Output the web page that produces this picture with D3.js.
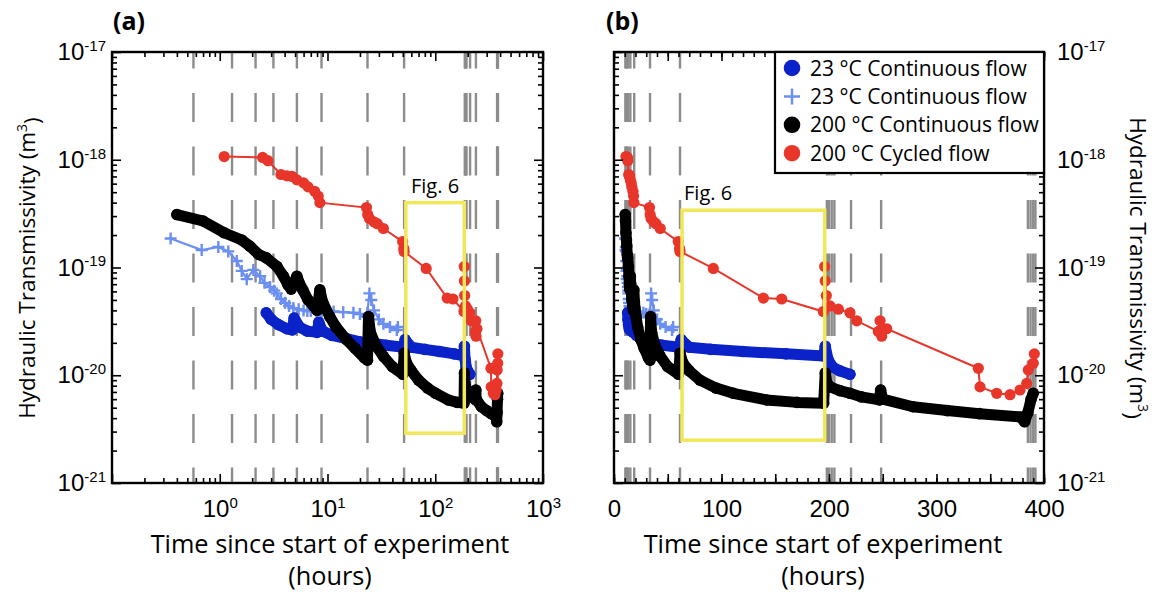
<!DOCTYPE html>
<html>
<head>
<meta charset="utf-8">
<script src="https://cdn.jsdelivr.net/npm/d3@7"></script>
<style>
  body { margin: 0; background: #fff; }
  svg { font-family: "Open Sans", sans-serif; }
</style>
</head>
<body>
<div id="chart"></div>
<script>
// ---- data: hours as read on panel (b), transmissivity in m^3 ----
const flowEvents = [10.57, 11.3, 12.15, 13.15, 15.2, 18.8, 33.5, 61.4, 198, 200, 202.5, 205, 220.5, 248.5, 385, 387.5, 390, 392];

const blueDots = [
  [12.7, 3.8e-20], [13.0, 3.3e-20], [13.5, 2.95e-20], [14.2, 2.7e-20], [14.7, 2.63e-20], [14.9, 3.4e-20],
  [15.5, 2.8e-20], [16.5, 2.57e-20], [18.0, 2.5e-20], [18.3, 3.1e-20], [19.0, 2.57e-20], [21, 2.34e-20],
  [25, 2.19e-20], [30, 2.04e-20], [34, 2.0e-20], [45, 1.9e-20], [61, 1.82e-20], [62.5, 2.14e-20],
  [70, 1.82e-20], [90, 1.74e-20], [120, 1.66e-20], [160, 1.58e-20], [195, 1.51e-20], [196.5, 1.86e-20],
  [199, 1.41e-20], [203, 1.2e-20], [210, 1.1e-20], [219.5, 1.02e-20]
];

const blueCrosses = [
  [10.35, 1.86e-19], [10.68, 1.45e-19], [10.97, 1.55e-19], [11.2, 1.41e-19], [11.44, 1.15e-19], [11.6, 9.3e-20],
  [11.78, 7.8e-20], [12.05, 9.5e-20], [12.37, 8.3e-20], [12.6, 7.2e-20], [12.93, 6.6e-20], [13.2, 6.1e-20],
  [13.38, 5.75e-20], [13.7, 5.1e-20], [14.04, 4.7e-20], [14.4, 4.4e-20], [14.82, 4.2e-20], [15.4, 4.1e-20],
  [16, 4.0e-20], [16.5, 3.95e-20], [17, 3.95e-20], [17.9, 3.9e-20], [18.7, 3.9e-20], [19.5, 3.9e-20],
  [21.4, 3.9e-20], [24, 3.85e-20], [27.4, 3.8e-20], [30, 3.7e-20], [33.2, 3.5e-20], [34.5, 5.75e-20],
  [35.5, 5.0e-20], [37, 4.0e-20], [40, 3.3e-20], [43, 3.0e-20], [48, 2.8e-20], [54, 2.63e-20], [55, 2.8e-20]
];

const blackDots = [
  [10.4, 3.1e-19], [10.7, 2.7e-19], [11.1, 2.1e-19], [11.6, 1.8e-19], [11.9, 1.58e-19], [12.3, 1.32e-19],
  [12.7, 1.23e-19], [13.4, 1.02e-19], [13.9, 8.3e-20], [14.3, 6.9e-20], [14.6, 6.3e-20], [15.2, 8.3e-20],
  [15.5, 7.1e-20], [15.9, 6.2e-20], [16.6, 5.0e-20], [17.4, 4.4e-20], [18.0, 4.0e-20], [18.5, 6.2e-20],
  [19.0, 4.8e-20], [20.5, 3.5e-20], [22, 2.8e-20], [25, 2.14e-20], [28, 1.78e-20], [32, 1.45e-20],
  [33.5, 1.38e-20], [34, 3.5e-20], [35, 2.5e-20], [38, 1.9e-20], [43, 1.5e-20], [50, 1.2e-20],
  [60, 1.02e-20], [61.5, 1.6e-20], [64, 1.3e-20], [70, 1.1e-20], [80, 9.0e-21], [95, 7.6e-21],
  [111, 6.8e-21], [142, 5.9e-21], [170, 5.6e-21], [195, 5.5e-21], [196.5, 1.05e-20], [198, 8.5e-21],
  [201, 7.8e-21], [210, 7.2e-21], [219.5, 6.8e-21], [230, 6.3e-21], [247, 5.9e-21], [248, 7.3e-21],
  [250, 6.0e-21], [278, 5.1e-21], [310, 4.7e-21], [340, 4.4e-21], [378, 4.1e-21], [382, 3.7e-21],
  [385, 4.5e-21], [388, 6.0e-21], [390, 6.8e-21]
];

const redDots = [
  [11.1, 1.07e-18], [12.5, 1.05e-18], [12.8, 9.8e-19], [13.7, 7.3e-19], [14.2, 7.1e-19], [14.7, 7.0e-19],
  [15.2, 6.5e-19], [16.0, 6.1e-19], [16.6, 5.6e-19], [17.6, 5.1e-19], [18.2, 4.6e-19], [18.5, 4.0e-19],
  [33, 3.6e-19], [33.6, 3.1e-19], [34.5, 2.85e-19], [37, 2.65e-19], [39, 2.55e-19], [43, 2.3e-19],
  [59.8, 1.74e-19], [61, 1.5e-19], [61.4, 1.41e-19], [92.4, 9.8e-20], [139, 5.2e-20], [156, 5.1e-20],
  [194.7, 3.9e-20], [196, 1.02e-19], [196.5, 7.5e-20], [197.5, 5.5e-20], [200.9, 4.4e-20], [208.7, 4.1e-20],
  [219.5, 3.8e-20], [225.8, 3.2e-20], [245.9, 2.55e-20], [247.5, 3.2e-20], [249, 2.3e-20], [253.7, 2.7e-20],
  [338.9, 1.16e-20], [340.5, 7.8e-21], [356, 6.8e-21], [368.4, 6.6e-21], [377.7, 7.3e-21], [383.9, 8.4e-21],
  [385.4, 1.12e-20], [390, 1.29e-20], [391, 1.58e-20]
];

// window shown in Fig. 6 (hours) and its transmissivity bounds in each panel
const figWindow = [63.3, 196];
const figBoundsA = [2.9e-21, 4.0e-19];
const figBoundsB = [2.5e-21, 3.4e-19];

const panelAShift = 10;   // panel (a) counts hours from 10 h later than panel (b)
const legendLabels = ["23 \u00B0C Continuous flow", "23 \u00B0C Continuous flow", "200 \u00B0C Continuous flow", "200 \u00B0C Cycled flow"];
const yTickExps = [-21, -20, -19, -18, -17];
const xTickExpsA = [0, 1, 2, 3];
const xTicksB = [0, 100, 200, 300, 400];

// ---- layout ----
const W = 1156, H = 595;
const plotTop = 52, plotBottom = 483;
const colors = { blue: "#0a22c8", light: "#6b8ff0", black: "#000000", red: "#e8362a", yellow: "#f1e75a", gray: "#8c8c8c" };

const svg = d3.select("#chart").append("svg")
    .attr("width", W).attr("height", H);

const y = d3.scaleLog().domain([1e-21, 1e-17]).range([plotBottom, plotTop]);
const xA = d3.scaleLog().domain([0.1, 1000]).range([112, 543]);
const xB = d3.scaleLinear().domain([0, 400]).range([614, 1044]);

const minorLog = (lo, hi) => {
  const out = [];
  for (let e = lo; e < hi; e++) for (let m = 2; m <= 9; m++) out.push(m * Math.pow(10, e));
  return out;
};
const majorY = yTickExps.map(e => Math.pow(10, e));
const minorY = minorLog(-21, -17);

function supLabel(sel, exp) {
  sel.text(null);
  sel.append("tspan").text("10");
  sel.append("tspan").attr("dy", "-0.62em").style("font-size", "15px").text(exp);
}

function frame(g, x, x0, x1, isLog, labelRight) {
  const noDomain = s => s.select(".domain").remove();
  // y axes, left and right, ticks pointing inward
  const yl = g.append("g").attr("transform", `translate(${x0},0)`);
  yl.append("g").call(d3.axisLeft(y).tickValues(minorY).tickSizeInner(-5).tickSizeOuter(0).tickFormat("")).call(noDomain);
  const ylm = yl.append("g").call(d3.axisLeft(y).tickValues(majorY).tickSizeInner(-9).tickSizeOuter(0).tickPadding(6)).call(noDomain);
  const yr = g.append("g").attr("transform", `translate(${x1},0)`);
  yr.append("g").call(d3.axisRight(y).tickValues(minorY).tickSizeInner(-5).tickSizeOuter(0).tickFormat("")).call(noDomain);
  const yrm = yr.append("g").call(d3.axisRight(y).tickValues(majorY).tickSizeInner(-9).tickSizeOuter(0).tickPadding(13)).call(noDomain);

  (labelRight ? ylm : yrm).selectAll(".tick text").remove();
  (labelRight ? yrm : ylm).selectAll(".tick text")
      .style("font-size", "24px").attr("fill", "#000")
      .each(function(d) { supLabel(d3.select(this), Math.round(Math.log10(d))); });

  // x axes, bottom and top
  let minorX, majorX;
  if (isLog) {
    minorX = minorLog(-1, 3);
    majorX = [0.1, 1, 10, 100, 1000];
  } else {
    minorX = d3.range(0, 401, 10);
    majorX = d3.range(0, 401, 50);
  }
  const xb = g.append("g").attr("transform", `translate(0,${plotBottom})`);
  xb.append("g").call(d3.axisBottom(x).tickValues(minorX).tickSizeInner(-5).tickSizeOuter(0).tickFormat("")).call(noDomain);
  const xbm = xb.append("g").call(d3.axisBottom(x).tickValues(majorX).tickSizeInner(-9).tickSizeOuter(0).tickPadding(10)).call(noDomain);
  xbm.selectAll(".tick text").style("font-size", "24px").attr("fill", "#000").attr("dy", "1em");
  if (isLog) {
    xbm.selectAll(".tick text").each(function(d) {
      const e = Math.round(Math.log10(d));
      if (!xTickExpsA.includes(e)) d3.select(this).remove();
      else supLabel(d3.select(this), e);
    });
  } else {
    xbm.selectAll(".tick text").each(function(d) {
      if (!xTicksB.includes(d)) d3.select(this).remove();
    });
  }
  const xt = g.append("g").attr("transform", `translate(0,${plotTop})`);
  xt.append("g").call(d3.axisTop(x).tickValues(minorX).tickSizeInner(-5).tickSizeOuter(0).tickFormat("")).call(noDomain);
  xt.append("g").call(d3.axisTop(x).tickValues(majorX).tickSizeInner(-9).tickSizeOuter(0).tickFormat("")).call(noDomain);
  g.selectAll(".tick line").attr("stroke", "#000").attr("stroke-width", 1.6);

  g.append("rect")
      .attr("x", x0).attr("y", plotTop)
      .attr("width", x1 - x0).attr("height", plotBottom - plotTop)
      .attr("fill", "none").attr("stroke", "#000").attr("stroke-width", 2.4);
}

function panel(id, x, x0, x1, shift, bounds, isLog, labelRight, boxLabelAnchor) {
  const g = svg.append("g").attr("id", id);
  const clipId = id + "-clip";
  svg.append("clipPath").attr("id", clipId).append("rect")
      .attr("x", x0).attr("y", plotTop).attr("width", x1 - x0).attr("height", plotBottom - plotTop);
  const px = t => x(t - shift);

  const inner = g.append("g").attr("clip-path", `url(#${clipId})`);

  // flow change events
  inner.selectAll(".event").data(flowEvents).enter().append("line")
      .attr("x1", d => px(d)).attr("x2", d => px(d))
      .attr("y1", plotTop).attr("y2", plotBottom)
      .attr("stroke", colors.gray).attr("stroke-width", 2.4)
      .attr("stroke-dasharray", "29,24.5").attr("stroke-dashoffset", 12.5);

  const line = d3.line().x(d => px(d[0])).y(d => y(d[1]));

  // 23 C continuous flow (crosses)
  inner.append("path").datum(blueCrosses).attr("d", line)
      .attr("fill", "none").attr("stroke", colors.light).attr("stroke-width", 2.2);
  inner.selectAll(".cross").data(blueCrosses).enter().append("path")
      .attr("transform", d => `translate(${px(d[0])},${y(d[1])})`)
      .attr("d", "M-6,0H6M0,-6V6").attr("stroke", colors.light).attr("stroke-width", 2.4);

  // dense series drawn as overlapping dots
  [[blueDots, colors.blue], [blackDots, colors.black]].forEach(([data, c]) => {
    inner.append("path").datum(data).attr("d", line)
        .attr("fill", "none").attr("stroke", c).attr("stroke-width", 11)
        .attr("stroke-linejoin", "round").attr("stroke-linecap", "round");
    inner.selectAll(null).data(data).enter().append("circle")
        .attr("cx", d => px(d[0])).attr("cy", d => y(d[1])).attr("r", 5.8).attr("fill", c);
  });

  // 200 C cycled flow
  inner.append("path").datum(redDots).attr("d", line)
      .attr("fill", "none").attr("stroke", colors.red).attr("stroke-width", 2);
  inner.selectAll(".red").data(redDots).enter().append("circle")
      .attr("cx", d => px(d[0])).attr("cy", d => y(d[1])).attr("r", 5.6).attr("fill", colors.red);

  // Fig. 6 window
  const bx0 = px(figWindow[0]), bx1 = px(figWindow[1]);
  g.append("rect")
      .attr("x", bx0).attr("y", y(bounds[1]))
      .attr("width", bx1 - bx0).attr("height", y(bounds[0]) - y(bounds[1]))
      .attr("fill", "none").attr("stroke", colors.yellow).attr("stroke-width", 3.5);
  g.append("text")
      .attr("x", boxLabelAnchor === "middle" ? (bx0 + bx1) / 2 : bx0 + 2)
      .attr("y", y(bounds[1]) - 10)
      .attr("text-anchor", boxLabelAnchor)
      .style("font-size", "20px")
      .text("Fig. 6");

  frame(g, x, x0, x1, isLog, labelRight);
}

panel("pa", xA, 112, 543, panelAShift, figBoundsA, true, false, "middle");
panel("pb", xB, 614, 1044, 0, figBoundsB, false, true, "start");

// panel letters
svg.append("text").attr("x", 113).attr("y", 30).style("font-size", "25px").style("font-weight", "bold").text("(a)");
svg.append("text").attr("x", 606).attr("y", 30).style("font-size", "25px").style("font-weight", "bold").text("(b)");

// axis titles
const yTitle = (sel) => {
  sel.append("tspan").text("Hydraulic Transmissivity (m");
  sel.append("tspan").attr("dy", "-0.6em").style("font-size", "14px").text("3");
  sel.append("tspan").attr("dy", "0.6em").text(")");
};
svg.append("text").attr("transform", "translate(35,268) rotate(-90)")
    .attr("text-anchor", "middle").style("font-size", "22.5px").call(yTitle);
svg.append("text").attr("transform", "translate(1130,268) rotate(90)")
    .attr("text-anchor", "middle").style("font-size", "22.5px").call(yTitle);

[330, 823].forEach(cx => {
  svg.append("text").attr("x", cx).attr("y", 553).attr("text-anchor", "middle")
      .style("font-size", "25.3px").text("Time since start of experiment");
  svg.append("text").attr("x", cx).attr("y", 585).attr("text-anchor", "middle")
      .style("font-size", "25.3px").text("(hours)");
});

// legend
const leg = svg.append("g");
leg.append("rect").attr("x", 775).attr("y", plotTop).attr("width", 1044 - 775).attr("height", 121)
    .attr("fill", "#fff").attr("stroke", "#000").attr("stroke-width", 2.2);
const legColors = [colors.blue, colors.light, colors.black, colors.red];
legendLabels.forEach((lab, i) => {
  const ly = plotTop + 16 + i * 28.4;
  if (i === 1) {
    leg.append("path").attr("transform", `translate(792,${ly})`)
        .attr("d", "M-8,0H8M0,-8V8").attr("stroke", legColors[i]).attr("stroke-width", 2.5);
  } else {
    leg.append("circle").attr("cx", 792).attr("cy", ly).attr("r", 8.3).attr("fill", legColors[i]);
  }
  leg.append("text").attr("x", 810).attr("y", ly + 7.5).style("font-size", "21px").text(lab);
});
</script>
</body>
</html>
